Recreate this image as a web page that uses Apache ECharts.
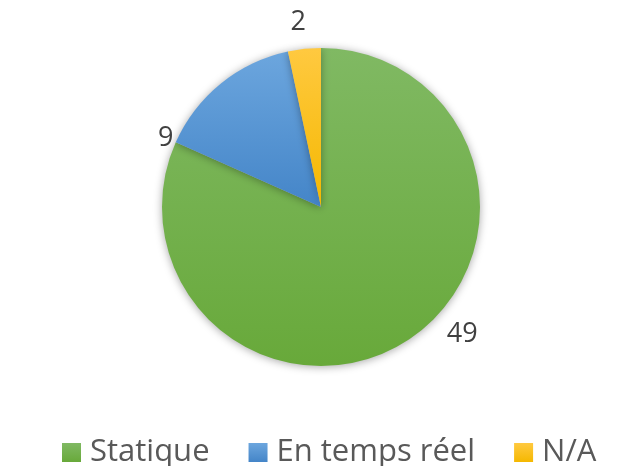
<!DOCTYPE html>
<html>
<head>
<meta charset="utf-8">
<script src="https://cdn.jsdelivr.net/npm/echarts@6/dist/echarts.min.js"></script>
<style>
  html, body { margin: 0; padding: 0; background: #fff; }
  #chart { width: 643px; height: 466px; }
</style>
</head>
<body>
<div id="chart"></div>
<script>
var categories = ["Statique", "En temps réel", "N/A"];
var values = [49, 9, 2];
var colorsTop = ["#80b963", "#6ca6de", "#ffc940"];
var colorsBottom = ["#68a93a", "#4485c8", "#f5b800"];

// label placement (Excel "best fit"): angle clockwise from 12 o'clock, distance from centre
var labelAngle = [132, -66, -7];
var labelDist = [190, 170, 186];

var cx = 321, cy = 207, r = 159;

var chartDom = document.getElementById("chart");
var myChart = echarts.init(chartDom);

var pieData = categories.map(function (name, i) {
  return {
    name: name,
    value: values[i],
    itemStyle: {
      color: new echarts.graphic.LinearGradient(0, 0, 0, 1, [
        { offset: 0, color: colorsTop[i] },
        { offset: 1, color: colorsBottom[i] },
      ]),
    },
  };
});

var option = {
  animation: false,
  color: ["#70ad47", "#5b9bd5", "#ffc000"],
  legend: {
    top: 432,
    left: 57,
    icon: "rect",
    itemWidth: 19,
    itemHeight: 19,
    itemGap: 39,
    textStyle: {
      fontFamily: "Open Sans",
      fontSize: 31,
      color: "#595959",
      padding: [0, 0, 0, 4],
    },
    data: categories,
  },
  series: [
    {
      type: "pie",
      center: [cx, cy],
      radius: r,
      startAngle: 90,
      clockwise: true,
      label: {
        show: true,
        position: "outside",
        formatter: "{c}",
        fontFamily: "Open Sans",
        fontSize: 27,
        color: "#404040",
      },
      labelLine: { show: false },
      labelLayout: function (params) {
        var a = (labelAngle[params.dataIndex] * Math.PI) / 180;
        var d = labelDist[params.dataIndex];
        return {
          x: cx + d * Math.sin(a),
          y: cy - d * Math.cos(a),
          align: "center",
          verticalAlign: "middle",
        };
      },
      itemStyle: {
        shadowBlur: 8,
        shadowColor: "rgba(0,0,0,0.35)",
        shadowOffsetY: 1,
      },
      emphasis: { disabled: true },
      data: pieData,
    },
  ],
};

option && myChart.setOption(option);
</script>
</body>
</html>
